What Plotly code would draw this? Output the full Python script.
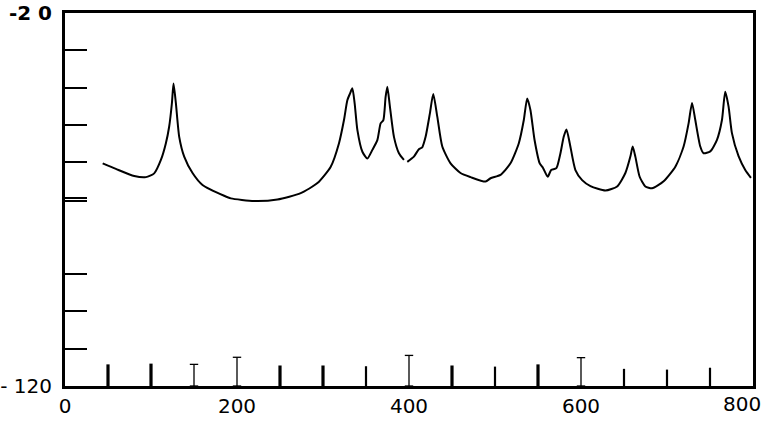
import plotly.graph_objects as go

# ---- spectrum curve (two pieces, gap near x~396) ----
curve_x = [43.8, 59.2, 80.5, 94.1, 103.7, 111.5, 117.3, 121.1, 124.3, 126.2, 128.9, 132.8, 138.6,
           148.3, 159.9, 185.0, 192.8, 219.9, 247.0, 274.1, 293.5, 309.0, 318.6, 324.4, 328.3,
           331.4, 334.1, 336.8, 340.0, 345.8, 351.6, 357.4, 363.2, 367.0, 370.2, 372.8, 374.8,
           377.8, 382.5, 388.3, 394.1, None,
           398.0, 405.7, 411.5, 415.4, 419.3, 424.3, 428.2, 432.9, 438.7, 448.3, 459.9, 471.6,
           489.0, 494.8, 506.4, 518.0, 527.7, 533.5, 537.4, 541.2, 545.9, 552.0, 556.0, 561.3,
           565.3, 571.4, 576.1, 579.9, 583.1, 586.9, 593.5, 601.3, 611.0, 628.4, 642.0, 651.6,
           657.4, 660.1, 663.2, 668.2, 674.8, 682.6, 696.1, 709.7, 719.3, 725.1, 729.1, 732.9,
           738.7, 742.5, 750.3, 758.1, 763.9, 767.7, 771.6, 775.5, 783.2, 791.0, 797.6]
curve_y = [-60.3, -61.8, -63.7, -64.0, -63.0, -59.4, -54.9, -50.5, -44.2, -38.9, -44.1, -53.2, -58.5,
           -62.9, -66.1, -69.0, -69.7, -70.4, -70.0, -68.3, -65.6, -61.2, -54.9, -48.7, -43.4,
           -41.6, -40.2, -44.2, -51.4, -57.2, -59.0, -56.7, -54.1, -49.6, -48.7, -42.5, -39.8,
           -45.1, -53.2, -57.6, -59.4, None,
           -59.9, -58.5, -56.5, -56.0, -53.2, -46.9, -41.7, -47.8, -55.8, -60.3, -62.9, -64.0,
           -65.2, -64.3, -63.4, -60.3, -54.9, -48.7, -42.9, -46.0, -53.9, -60.3, -61.6, -63.9,
           -62.1, -61.6, -57.6, -53.2, -51.2, -54.9, -62.1, -64.8, -66.4, -67.6, -66.5, -62.9,
           -58.5, -55.8, -58.5, -63.9, -66.5, -67.0, -65.1, -61.2, -55.8, -49.6, -44.1, -48.7,
           -55.8, -57.6, -57.1, -54.0, -48.7, -41.1, -45.1, -52.2, -58.4, -62.1, -64.2]

# ---- vertical line markers along the bottom ----
marker_x = [50, 100, 150, 200, 250, 300, 350, 400, 450, 500, 550, 600, 650, 700, 750]
marker_top = [-114.2, -114.0, -114.2, -112.3, -114.5, -114.5, -114.7, -111.8,
              -114.5, -114.8, -114.2, -112.4, -115.4, -115.6, -115.1]
marker_style = ["thick", "thick", "thin", "thin", "thick", "thick", "medium", "thin",
                "thick", "medium", "thick", "thin", "medium", "medium", "medium"]
base_value = -120

# ---- axis ticks ----
x_tickvals = [0, 200, 400, 600, 800]
x_ticktext = ["0", "200", "400", "600", "800"]
y_tickvals = [-20, -30, -40, -50, -60, -69.6, -70.4, -90, -100, -110, -120]
y_ticktext = ["<b>-2 0</b>", "", "", "", "", "", "", "", "", "", "- 120"]

fig = go.Figure()

fig.add_trace(go.Scatter(x=curve_x, y=curve_y, mode="lines",
                         line=dict(color="black", width=2, shape="spline", smoothing=0.6),
                         connectgaps=False, showlegend=False, hoverinfo="skip"))

widths = {"thick": 3.2, "medium": 2.2, "thin": 1.3}
for style in ["thick", "medium", "thin"]:
    xs, ys = [], []
    for mx, mt, ms in zip(marker_x, marker_top, marker_style):
        if ms == style:
            xs += [mx, mx, None]
            ys += [base_value, mt, None]
    if style == "thin":
        fig.add_trace(go.Scatter(x=xs, y=ys, mode="lines+markers",
                                 line=dict(color="black", width=widths[style]),
                                 marker=dict(symbol="line-ew", size=6,
                                             line=dict(color="black", width=1.3)),
                                 showlegend=False, hoverinfo="skip"))
    else:
        fig.add_trace(go.Scatter(x=xs, y=ys, mode="lines",
                                 line=dict(color="black", width=widths[style]),
                                 showlegend=False, hoverinfo="skip"))

# last x label drawn as an annotation anchored at its tick so it stays inside the page
fig.add_annotation(x=x_tickvals[-1], y=0, xref="x", yref="paper", text=x_ticktext[-1],
                   showarrow=False, xanchor="center", yanchor="top", xshift=-11, yshift=-4,
                   font=dict(family="DejaVu Sans", size=20, color="black"))

fig.update_layout(
    width=771, height=430,
    margin=dict(l=65, r=18, t=13, b=44),
    paper_bgcolor="white", plot_bgcolor="white",
    font=dict(family="DejaVu Sans", color="black", size=19),
)
fig.update_xaxes(range=[0, 800], tickvals=x_tickvals[:-1], ticktext=x_ticktext[:-1],
                 showgrid=False, zeroline=False, showline=True, linecolor="black",
                 linewidth=3, mirror=True, ticks="", tickfont=dict(size=20),
                 automargin=False, ticklabeloverflow="allow")
fig.update_yaxes(range=[-120, -20], tickvals=y_tickvals, ticktext=y_ticktext,
                 showgrid=False, zeroline=False, showline=True, linecolor="black",
                 linewidth=3, mirror=True, ticks="inside", ticklen=22, tickwidth=2,
                 tickcolor="black", ticklabelstandoff=6, tickfont=dict(size=20),
                 automargin=False, ticklabeloverflow="allow")

fig.write_html("out.html", config={"displayModeBar": False},
               post_script="document.body.style.margin='0';")
